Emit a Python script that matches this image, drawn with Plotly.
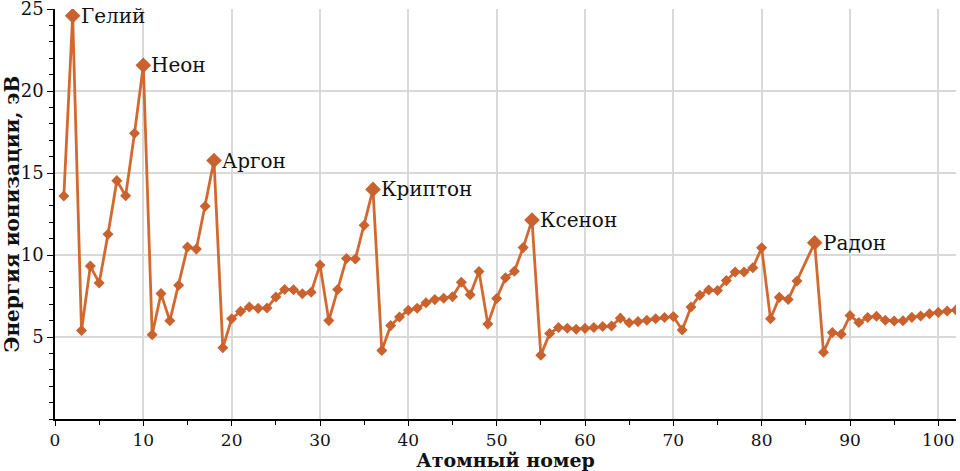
import plotly.graph_objects as go

# Atomic numbers (astatine, 85, absent in the source data)
atomic_numbers = [z for z in range(1, 103) if z != 85]
ionization_ev = [
    13.598, 24.587, 5.392, 9.323, 8.298, 11.260, 14.534, 13.618, 17.423, 21.565,
    5.139, 7.646, 5.986, 8.152, 10.487, 10.360, 12.968, 15.760,
    4.341, 6.113, 6.561, 6.828, 6.746, 6.767, 7.434, 7.902, 7.881, 7.640, 7.726, 9.394,
    5.999, 7.900, 9.789, 9.752, 11.814, 14.000,
    4.177, 5.695, 6.217, 6.634, 6.759, 7.092, 7.280, 7.361, 7.459, 8.337, 7.576, 8.994,
    5.786, 7.344, 8.608, 9.010, 10.451, 12.130,
    3.894, 5.212, 5.577, 5.539, 5.473, 5.525, 5.582, 5.644, 5.670, 6.150, 5.864, 5.939,
    6.022, 6.108, 6.184, 6.254, 5.426, 6.825, 7.550, 7.864, 7.834, 8.438, 8.967, 8.959,
    9.226, 10.438, 6.108, 7.417, 7.286, 8.414, 10.749,
    4.073, 5.279, 5.170, 6.307, 5.890, 6.194, 6.266, 6.026, 5.974, 5.991, 6.198, 6.282,
    6.420, 6.500, 6.580, 6.650,
]
noble_numbers = [2, 10, 18, 36, 54, 86]
noble_names = ["Гелий", "Неон", "Аргон", "Криптон", "Ксенон", "Радон"]
y_tick_values = [5, 10, 15, 20, 25]

energy_by_z = dict(zip(atomic_numbers, ionization_ev))
noble_energy = [energy_by_z[z] for z in noble_numbers]

LINE = "#d3692f"
MARK = "#c9622f"
FONT = "DejaVu Serif"

fig = go.Figure()
fig.add_trace(go.Scatter(
    x=atomic_numbers, y=ionization_ev, mode="lines+markers",
    line=dict(color=LINE, width=2.8),
    marker=dict(symbol="diamond", size=8.5, color=MARK),
    showlegend=False, hoverinfo="x+y",
))
fig.add_trace(go.Scatter(
    x=noble_numbers, y=noble_energy, mode="markers",
    marker=dict(symbol="diamond", size=12, color=MARK),
    showlegend=False, hoverinfo="x+y",
))
for z, e, name in zip(noble_numbers, noble_energy, noble_names):
    fig.add_annotation(x=z, y=e, text=name, showarrow=False,
                       xanchor="left", yanchor="middle", xshift=6,
                       font=dict(family=FONT, size=20, color="#111"))

fig.update_layout(
    width=960, height=471,
    margin=dict(l=55, r=4, t=9, b=52, autoexpand=False),
    plot_bgcolor="white", paper_bgcolor="white",
    font=dict(family=FONT, size=18, color="#111"),
)
fig.update_xaxes(
    range=[0, 102], dtick=10, tick0=0, automargin=False,
    showgrid=True, gridcolor="#d9d9d9", gridwidth=2,
    showline=True, linecolor="black", linewidth=1.5,
    ticks="outside", ticklen=5, tickcolor="black",
    tickfont=dict(size=17),
    minor=dict(dtick=5, ticks="outside", ticklen=4, tickcolor="black", showgrid=False),
    zeroline=False, ticklabeloverflow="allow",
    title=dict(text="<b>Атомный номер</b>", font=dict(family=FONT, size=19), standoff=0),
)
fig.update_yaxes(
    range=[0, 25.001], automargin=False,
    showgrid=True, gridcolor="#d9d9d9", gridwidth=2,
    showline=True, linecolor="black", linewidth=1.5,
    ticks="outside", ticklen=6, tickcolor="black",
    minor=dict(dtick=1, ticks="outside", ticklen=4, tickcolor="black", showgrid=False),
    zeroline=False, ticklabeloverflow="allow",
    tickvals=y_tick_values,
    title=dict(text="<b>Энергия ионизации, эВ</b>", font=dict(family=FONT, size=20), standoff=4),
)

fig.write_html(
    "out.html",
    config={"displayModeBar": False},
    post_script="document.body.style.margin='0';document.body.style.overflow='hidden';",
)
